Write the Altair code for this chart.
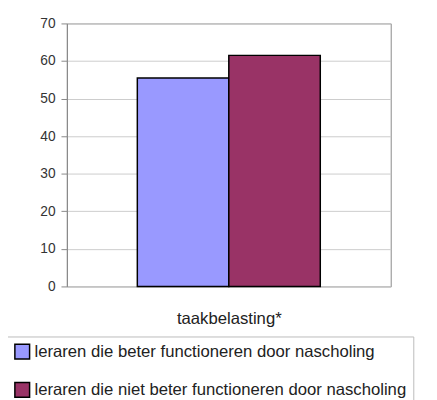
import altair as alt
import pandas as pd

categories = ["taakbelasting*", "taakbelasting*"]
series = ["leraren die beter functioneren door nascholing",
          "leraren die niet beter functioneren door nascholing"]
values = [55.5, 61.5]
colors = ["#9999FF", "#993366"]

df = pd.DataFrame({"cat": categories, "series": series, "value": values})

chart = alt.Chart(df).mark_bar(stroke="black", strokeWidth=1.5).encode(
    x=alt.X("series:N", sort=series,
            scale=alt.Scale(paddingInner=0.0, paddingOuter=0.77),
            axis=alt.Axis(title="taakbelasting*", labels=False, ticks=False,
                          domain=False, titlePadding=25, titleFontSize=17,
                          titleFontWeight="normal", titleFont="Liberation Sans",
                          titleColor="#222")),
    y=alt.Y("value:Q", scale=alt.Scale(domain=[0, 70]),
            axis=alt.Axis(title=None, values=list(range(0, 71, 10)), tickSize=6,
                          labelFontSize=14, labelFont="Liberation Sans",
                          labelColor="#333", gridColor="#cccccc",
                          domainColor="#888", tickColor="#888", labelPadding=6)),
    color=alt.Color("series:N", sort=series,
                    scale=alt.Scale(domain=series, range=colors),
                    legend=alt.Legend(title=None, orient="none", legendX=-61, legendY=319,
                                      direction="vertical", symbolType="square",
                                      symbolSize=225, symbolStrokeColor="black",
                                      symbolStrokeWidth=1.5, labelFontSize=17,
                                      labelFont="Liberation Sans", labelColor="#222",
                                      rowPadding=18, padding=7, strokeColor="#bbbbbb",
                                      labelLimit=600, labelOffset=4)),
).properties(
    width=330, height=268,
    autosize=alt.AutoSizeParams(type="none"),
    padding={"left": 60, "top": 12, "right": 39, "bottom": 112},
).configure_view(stroke="#888", strokeWidth=1)

chart.save("out.html", embed_options={"renderer": "svg", "actions": False})
